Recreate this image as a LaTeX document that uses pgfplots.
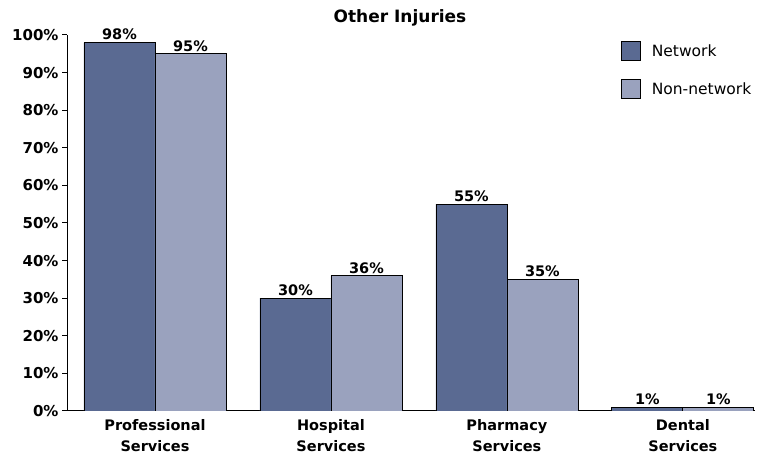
\documentclass[border=0pt]{standalone}
\usepackage{pgfplots}
\pgfplotsset{compat=1.18}
\usepackage{fontspec}
\setmainfont{DejaVu Sans}
\definecolor{netw}{HTML}{5A6A92}
\definecolor{nonnetw}{HTML}{9AA2BE}
\begin{document}
\begin{tikzpicture}[x=1bp,y=1bp]
\useasboundingbox (0,0) rectangle (758,462);
\node[font=\bfseries\fontsize{17bp}{19bp}\selectfont] at (400,444) {Other Injuries};
\begin{axis}[
  at={(67bp,51bp)}, anchor=south west,
  scale only axis, width=688bp, height=376bp,
  xmin=-0.5, xmax=3.41, ymin=0, ymax=100,
  ybar=0pt, bar width=71bp,
  axis x line=bottom, axis y line=left,
  axis line style={-, black, line width=1pt},
  xtick={0,1,2,3},
  xticklabels={Professional\\Services, Hospital\\Services, Pharmacy\\Services, Dental\\Services},
  xticklabel style={align=center, font=\bfseries\fontsize{14.5bp}{21bp}\selectfont},
  x tick style={draw=none},
  ytick={0,10,...,100},
  yticklabel={\pgfmathprintnumber{\tick}\%},
  yticklabel style={font=\bfseries\fontsize{15bp}{17bp}\selectfont, xshift=0bp},
  /pgf/number format/assume math mode=true,
  y tick style={black, line width=1pt},
  tick align=outside, major tick length=5bp,
  nodes near coords={\pgfmathprintnumber{\pgfplotspointmeta}\%},
  every node near coord/.append style={font=\bfseries\fontsize{14.5bp}{16bp}\selectfont, inner sep=2bp},
  legend style={at={(0.805,0.985)}, anchor=north west, draw=none, fill=none,
    font=\fontsize{15.5bp}{17bp}\selectfont, row sep=18bp, inner sep=0pt},
  legend cell align=left,
  legend image code/.code={\draw[#1, draw=black, line width=0.8pt] (0bp,-9bp) rectangle (19bp,10bp);},
  legend style={/tikz/every odd column/.append style={column sep=9bp}},
]
\addplot[fill=netw, draw=black, line width=0.8pt] coordinates {(0,98) (1,30) (2,55) (3,1)};
\addplot[fill=nonnetw, draw=black, line width=0.8pt] coordinates {(0,95) (1,36) (2,35) (3,1)};
\legend{Network, Non-network}
\end{axis}
\end{tikzpicture}
\end{document}
